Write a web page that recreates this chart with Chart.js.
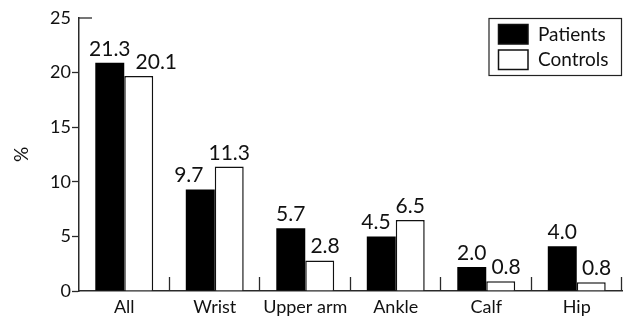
<!DOCTYPE html>
<html>
<head>
<meta charset="utf-8">
<script src="https://cdn.jsdelivr.net/npm/chart.js@4"></script>
<style>
  html, body { margin: 0; padding: 0; background: #fff; }
  #wrap { width: 624px; height: 317px; }
</style>
</head>
<body>
<div id="wrap"><canvas id="sites"></canvas></div>
<script>
// ===== Data =====
const sites = ['All', 'Wrist', 'Upper arm', 'Ankle', 'Calf', 'Hip'];
const patients = [20.9, 9.3, 5.75, 5.0, 2.2, 4.1];
const controls = [19.7, 11.4, 2.8, 6.5, 0.9, 0.8];
const patientLabels = ['21.3', '9.7', '5.7', '4.5', '2.0', '4.0'];
const controlLabels = ['20.1', '11.3', '2.8', '6.5', '0.8', '0.8'];
const yTicks = [0, 5, 10, 15, 20, 25];

const FONT = 'Lato';
const AXIS = '#2a2a2a';

// value labels above the bars; the lower one of a pair is pushed aside when they would collide
const valueLabels = {
    id: 'valueLabels',
    afterDatasetsDraw(chart) {
        const ctx = chart.ctx;
        ctx.save();
        ctx.font = '21px ' + FONT;
        ctx.fillStyle = '#111';
        ctx.textAlign = 'center';
        ctx.textBaseline = 'alphabetic';
        const m0 = chart.getDatasetMeta(0).data;
        const m1 = chart.getDatasetMeta(1).data;
        sites.forEach((s, i) => {
            const a = { t: patientLabels[i], x: m0[i].x, y: m0[i].y - 7 };
            const b = { t: controlLabels[i], x: m1[i].x, y: m1[i].y - 7 };
            a.w = ctx.measureText(a.t).width;
            b.w = ctx.measureText(b.t).width;
            if (Math.abs(a.y - b.y) < 40) {
                const need = (a.w + b.w) / 2 + 5 - (b.x - a.x);
                if (need > 0) {
                    if (a.y > b.y) a.x -= need; else b.x += need;
                }
            }
            ctx.fillText(a.t, a.x, a.y);
            ctx.fillText(b.t, b.x, b.y);
        });
        ctx.restore();
    }
};

// upward ticks between categories, the cap at the top of the y axis, and the boxed legend
const frame = {
    id: 'frame',
    afterDraw(chart) {
        const ctx = chart.ctx;
        const x = chart.scales.x, y = chart.scales.y;
        const area = chart.chartArea;
        ctx.save();
        ctx.strokeStyle = AXIS;
        ctx.lineWidth = 1.3;
        const step = x.getPixelForValue(1) - x.getPixelForValue(0);
        for (let i = 0; i < sites.length; i++) {
            const px = Math.round(x.getPixelForValue(i) + step / 2) - 0.5;
            ctx.beginPath();
            ctx.moveTo(px, area.bottom);
            ctx.lineTo(px, area.bottom - 14);
            ctx.stroke();
        }
        const top = y.getPixelForValue(25);
        ctx.beginPath();
        ctx.moveTo(area.left, top);
        ctx.lineTo(area.left + 13, top);
        ctx.stroke();

        // legend
        const lx = 489, ly = 18.5, lw = 132.5, lh = 57;
        ctx.lineWidth = 1.2;
        ctx.strokeStyle = '#222';
        ctx.strokeRect(lx, ly, lw, lh);
        ctx.font = '19px ' + FONT;
        ctx.textBaseline = 'middle';
        chart.data.datasets.forEach((ds, i) => {
            const sy = 24 + i * 25.5;
            ctx.fillStyle = ds.backgroundColor;
            ctx.fillRect(498, sy, 30, 20);
            ctx.lineWidth = 1.5;
            ctx.strokeStyle = '#111';
            ctx.strokeRect(498.5, sy + 0.5, 29.5, 19.5);
            ctx.fillStyle = '#111';
            ctx.fillText(ds.label, 538, sy + 10.5);
        });
        ctx.restore();
    }
};

new Chart(document.getElementById('sites'), {
    type: 'bar',
    data: {
        labels: sites,
        datasets: [
            {
                label: 'Patients',
                data: patients,
                backgroundColor: '#000',
                borderColor: '#000',
                borderWidth: 0,
                categoryPercentage: 0.64,
                barPercentage: 1
            },
            {
                label: 'Controls',
                data: controls,
                backgroundColor: '#fff',
                borderColor: '#111',
                borderWidth: 1.5,
                categoryPercentage: 0.64,
                barPercentage: 1
            }
        ]
    },
    options: {
        responsive: true,
        maintainAspectRatio: false,
        animation: false,
        layout: { padding: { top: 18, right: 2, left: 0, bottom: 0 } },
        plugins: {
            legend: { display: false },
            tooltip: { enabled: false }
        },
        scales: {
            x: {
                grid: { display: false },
                border: { color: AXIS, width: 1.5 },
                ticks: { color: '#111', font: { family: FONT, size: 18 }, padding: -3 },
                afterFit(s) { s.height = 26; }
            },
            y: {
                min: 0,
                max: 25,
                afterBuildTicks(s) { s.ticks = yTicks.map(v => ({ value: v })); },
                grid: {
                    drawOnChartArea: false,
                    tickLength: 7,
                    tickWidth: 1.3,
                    tickColor: ctx => ctx.tick && ctx.tick.value === 25 ? 'rgba(0,0,0,0)' : AXIS
                },
                border: { color: AXIS, width: 1.5 },
                ticks: { color: '#111', font: { family: FONT, size: 18 }, padding: 1 },
                title: {
                    display: true,
                    text: '%',
                    color: '#111',
                    font: { family: FONT, size: 19 },
                    padding: { top: 10, bottom: 0 }
                },
                afterFit(s) { s.width = 79; }
            }
        }
    },
    plugins: [valueLabels, frame]
});
</script>
</body>
</html>
